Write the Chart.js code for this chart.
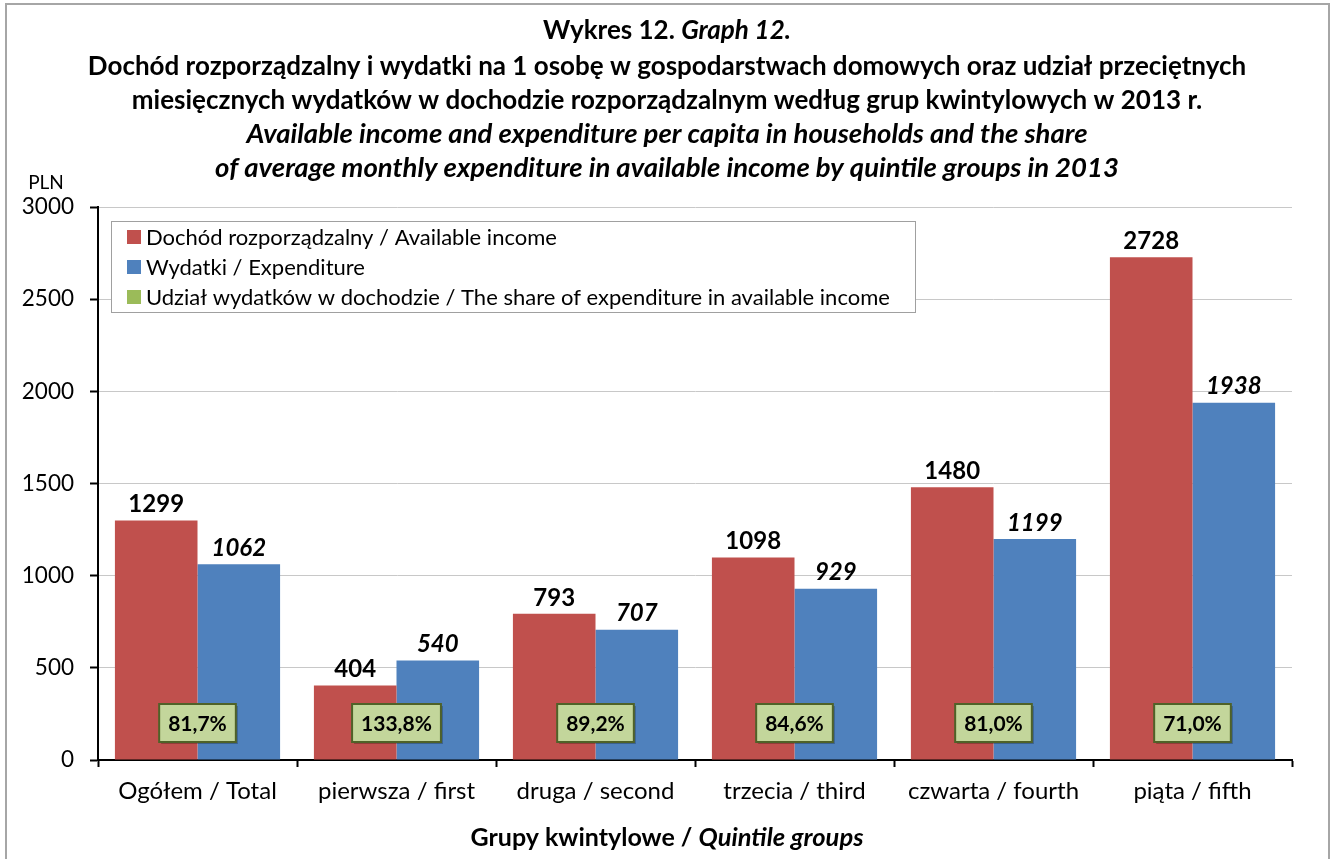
<!DOCTYPE html>
<html>
<head>
<meta charset="utf-8">
<script src="https://cdn.jsdelivr.net/npm/chart.js@4.4.0/dist/chart.umd.min.js"></script>
<style>
  html, body { margin: 0; padding: 0; background: #fff; }
  #wrap { width: 1334px; height: 859px; position: relative; }
</style>
</head>
<body>
<div id="wrap"><canvas id="chart" width="1334" height="859"></canvas></div>
<script>
// --- DATA ---
const categories = ['Ogółem / Total', 'pierwsza / first', 'druga / second', 'trzecia / third', 'czwarta / fourth', 'piąta / fifth'];
const income = [1299, 404, 793, 1098, 1480, 2728];
const expenditure = [1062, 540, 707, 929, 1199, 1938];
const shareLabels = ['81,7%', '133,8%', '89,2%', '84,6%', '81,0%', '71,0%'];

const seriesNames = [
    'Dochód rozporządzalny / Available income',
    'Wydatki / Expenditure',
    'Udział wydatków w dochodzie / The share of expenditure in available income'
];

const colors = {
    income: '#c0504d',
    expense: '#4f81bd',
    share: '#9bbb59',
    shareBox: '#c3d69b',
    shareBorder: '#4f6228'
};

const FONT = 'Lato, "Open Sans", sans-serif';

// --- TITLES, LEGEND, LABELS ---
const decorPlugin = {
    id: 'decor',
    beforeDraw(chart) {
        const ctx = chart.ctx;
        ctx.save();
        ctx.fillStyle = '#fff';
        ctx.fillRect(0, 0, chart.width, chart.height);
        ctx.restore();
    },
    afterDatasetsDraw(chart) {
        const ctx = chart.ctx;
        ctx.save();
        // hodnoty nad sloupci
        [0, 1].forEach(di => {
            const meta = chart.getDatasetMeta(di);
            ctx.font = (di === 0 ? 'bold ' : 'italic bold ') + '24px ' + FONT;
            ctx.fillStyle = '#000';
            ctx.textAlign = 'center';
            ctx.textBaseline = 'bottom';
            meta.data.forEach((bar, i) => {
                const v = chart.data.datasets[di].data[i];
                ctx.fillText(String(v), bar.x, bar.y - 4);
            });
        });

        // zelené boxy s podílem
        const xs = chart.scales.x;
        const bottom = chart.chartArea.bottom;
        ctx.font = 'bold 21px ' + FONT;
        shareLabels.forEach((txt, i) => {
            const cx = xs.getPixelForValue(i);
            const w = ctx.measureText(txt).width + 18;
            const h = 38;
            const x = cx - w / 2;
            const y = bottom - 56;
            ctx.fillStyle = 'rgba(0,0,0,0.25)';
            ctx.fillRect(x + 2, y + 2, w, h);
            ctx.fillStyle = colors.shareBox;
            ctx.fillRect(x, y, w, h);
            ctx.strokeStyle = colors.shareBorder;
            ctx.lineWidth = 2;
            ctx.strokeRect(x, y, w, h);
            ctx.fillStyle = '#000';
            ctx.textAlign = 'center';
            ctx.textBaseline = 'middle';
            ctx.fillText(txt, cx, y + h / 2 + 1);
        });
        ctx.restore();
    },
    afterDraw(chart) {
        const ctx = chart.ctx;
        ctx.save();
        // rámeček
        ctx.strokeStyle = '#a6a6a6';
        ctx.lineWidth = 2;
        ctx.strokeRect(6, 4, 1323, 870);

        // nadpis
        ctx.fillStyle = '#000';
        ctx.textBaseline = 'middle';
        const cx = 667;
        const mixed = (parts, y) => {
            let total = 0;
            parts.forEach(p => { ctx.font = p[1]; total += ctx.measureText(p[0]).width; });
            let x = cx - total / 2;
            ctx.textAlign = 'left';
            parts.forEach(p => {
                ctx.font = p[1];
                ctx.fillText(p[0], x, y);
                x += ctx.measureText(p[0]).width;
            });
        };
        const B = 'bold 26px ' + FONT;
        const BI = 'italic bold 27.5px ' + FONT;
        mixed([['Wykres 12. ', B], ['Graph 12.', 'italic bold 26px ' + FONT]], 31);
        mixed([['Dochód rozporządzalny i wydatki na 1 osobę w gospodarstwach domowych oraz udział przeciętnych', B]], 67);
        mixed([['miesięcznych wydatków w dochodzie rozporządzalnym według grup kwintylowych w 2013 r.', B]], 101);
        mixed([['Available income and expenditure per capita in households and the share', BI]], 134);
        mixed([['of average monthly expenditure in available income by quintile groups in 2013', BI]], 168);

        // popisek osy X
        mixed([['Grupy kwintylowe / ', 'bold 25px ' + FONT], ['Quintile groups', 'italic bold 25.5px ' + FONT]], 838);

        // PLN
        ctx.font = '19px ' + FONT;
        ctx.textAlign = 'center';
        ctx.fillText('PLN', 46, 183);

        // legenda
        const lx = 111, ly = 221, lw = 804, lh = 91;
        ctx.fillStyle = '#fff';
        ctx.fillRect(lx, ly, lw, lh);
        ctx.strokeStyle = '#a0a0a0';
        ctx.lineWidth = 1;
        ctx.strokeRect(lx + 0.5, ly + 0.5, lw, lh);
        const swatch = [colors.income, colors.expense, colors.share];
        ctx.font = '22px ' + FONT;
        ctx.textAlign = 'left';
        seriesNames.forEach((name, i) => {
            const y = 237 + i * 30;
            ctx.fillStyle = swatch[i];
            ctx.fillRect(127, y - 7, 14, 14);
            ctx.fillStyle = '#000';
            ctx.fillText(name, 146, y + 1);
        });
        ctx.restore();
    }
};

new Chart(document.getElementById('chart'), {
    type: 'bar',
    data: {
        labels: categories,
        datasets: [
            { label: seriesNames[0], data: income, backgroundColor: colors.income },
            { label: seriesNames[1], data: expenditure, backgroundColor: colors.expense }
        ]
    },
    options: {
        responsive: false,
        animation: false,
        devicePixelRatio: 1,
        layout: { padding: { top: 207, right: 42, left: 0, bottom: 0 } },
        datasets: { bar: { categoryPercentage: 0.83, barPercentage: 1.0 } },
        plugins: {
            legend: { display: false },
            tooltip: { enabled: false }
        },
        scales: {
            x: {
                offset: true,
                grid: { offset: true, drawOnChartArea: false, tickLength: 7, tickColor: '#000', tickWidth: 2 },
                border: { color: '#000', width: 2 },
                ticks: { color: '#000', font: { family: FONT, size: 24 }, padding: 10, maxRotation: 0 },
                afterFit(scale) { scale.height = 99; }
            },
            y: {
                min: 0,
                max: 3000,
                ticks: {
                    stepSize: 500, color: '#000', font: { family: FONT, size: 22.5 }, padding: 16,
                    callback: v => String(v)
                },
                grid: { color: '#c8c8c8', tickColor: '#000', tickLength: 8, tickWidth: 2 },
                border: { color: '#000', width: 2 },
                afterFit(scale) { scale.width = 98; }
            }
        }
    },
    plugins: [decorPlugin]
});
</script>
</body>
</html>
